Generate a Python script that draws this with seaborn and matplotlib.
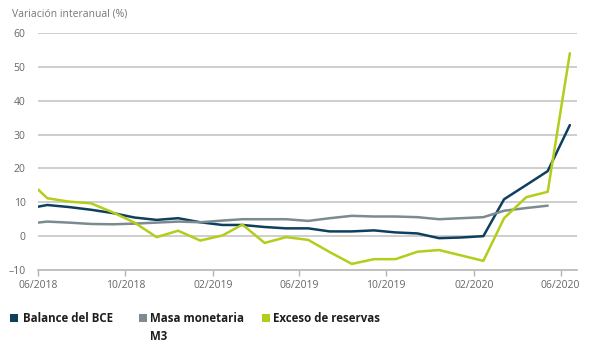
import numpy as np
import pandas as pd
import matplotlib
matplotlib.use("Agg")
import matplotlib.pyplot as plt
from matplotlib.patches import Rectangle
import seaborn as sns

# ---- data ----
dates = ["2018-06-01"] + [d.strftime("%Y-%m-14") for d in pd.date_range("2018-06-01", "2020-06-01", freq="MS")]
balance = [8.7, 9.2, 8.6, 7.8, 6.8, 5.5, 4.8, 5.3, 4.1, 3.3, 3.3, 2.7, 2.3, 2.3, 1.4, 1.4,
           1.7, 1.1, 0.8, -0.6, -0.4, 0.0, 10.9, 15.1, 19.2, 32.8]
m3 = [4.0, 4.3, 4.0, 3.6, 3.5, 3.7, 4.0, 4.3, 4.1, 4.6, 5.0, 5.0, 5.0, 4.5, 5.3, 6.0,
      5.8, 5.8, 5.6, 5.0, 5.3, 5.6, 7.5, 8.3, 9.0, np.nan]
exceso = [13.8, 11.2, 10.2, 9.7, 7.0, 4.0, -0.3, 1.6, -1.3, 0.2, 3.4, -2.0, -0.3, -1.1, -4.7, -8.2,
          -6.8, -6.8, -4.6, -4.1, -5.7, -7.3, 5.3, 11.5, 13.1, 54.0]
series_names = ["Balance del BCE", "Masa monetaria\nM3", "Exceso de reservas"]
tick_dates = ["2018-06-01", "2018-10-01", "2019-02-01", "2019-06-01", "2019-10-01", "2020-02-01", "2020-06-01"]
tick_labels = ["06/2018", "10/2018", "02/2019", "06/2019", "10/2019", "02/2020", "06/2020"]
y_ticks = [-10, 0, 10, 20, 30, 40, 50, 60]
y_tick_labels = ["\u201310", "0", "10", "20", "30", "40", "50", "60"]
title = "Variación interanual (%)"

colors = ["#0f3f5e", "#7b8b90", "#b4cc1a"]

df = pd.DataFrame({
    "fecha": pd.to_datetime(dates * 3),
    "valor": balance + m3 + exceso,
    "serie": np.repeat(series_names, len(dates)),
})

sns.set_theme(style="white")
plt.rcParams["font.family"] = ["Open Sans", "DejaVu Sans"]

fig = plt.figure(figsize=(6, 3.6), dpi=100)
ax = fig.add_axes([38 / 600, 1 - 270 / 360, (577 - 38) / 600, (270 - 33) / 360])

for y in y_ticks[1:]:
    ax.axhline(y, color="#c6c6c6", lw=1.2, zorder=0)

sns.lineplot(data=df, x="fecha", y="valor", hue="serie", hue_order=series_names,
             palette=colors, estimator=None, sort=True, linewidth=1.8, legend=False, ax=ax)

ax.set_ylim(-10, 60)
ax.set_xlim(pd.Timestamp("2018-06-01"), pd.Timestamp("2020-06-24"))
ax.set_yticks(y_ticks)
ax.set_yticklabels(y_tick_labels)
ax.set_xticks(pd.to_datetime(tick_dates))
ax.set_xticklabels(tick_labels)
ax.set_xlabel("")
ax.set_ylabel("")
for s in ["top", "right", "left"]:
    ax.spines[s].set_visible(False)
ax.spines["bottom"].set_color("#b5b5b5")
ax.spines["bottom"].set_linewidth(1.2)
ax.tick_params(axis="x", which="major", bottom=True, length=4, width=1.0, color="#b5b5b5",
               labelsize=7.5, labelcolor="#666666", pad=3)
ax.tick_params(axis="y", left=False, length=0, labelsize=7.5, labelcolor="#666666", pad=9)
ax.grid(False)

fig.text(12 / 600, 1 - 14 / 360, title, fontsize=7.5, color="#777777", va="center", ha="left")

# legend
sq_x = [10, 139, 262]
txt_x = [23, 150, 273]
for c, name, sx, tx in zip(colors, series_names, sq_x, txt_x):
    fig.patches.append(Rectangle((sx / 600, 1 - 322 / 360), 8 / 600, 8 / 360,
                                 transform=fig.transFigure, facecolor=c, edgecolor="none"))
    fig.text(tx / 600, 1 - 312 / 360, name, fontsize=8.3, fontweight="bold", color="#1e1e1e",
             va="top", ha="left", linespacing=1.5)

fig.savefig("out.png", dpi=100)
